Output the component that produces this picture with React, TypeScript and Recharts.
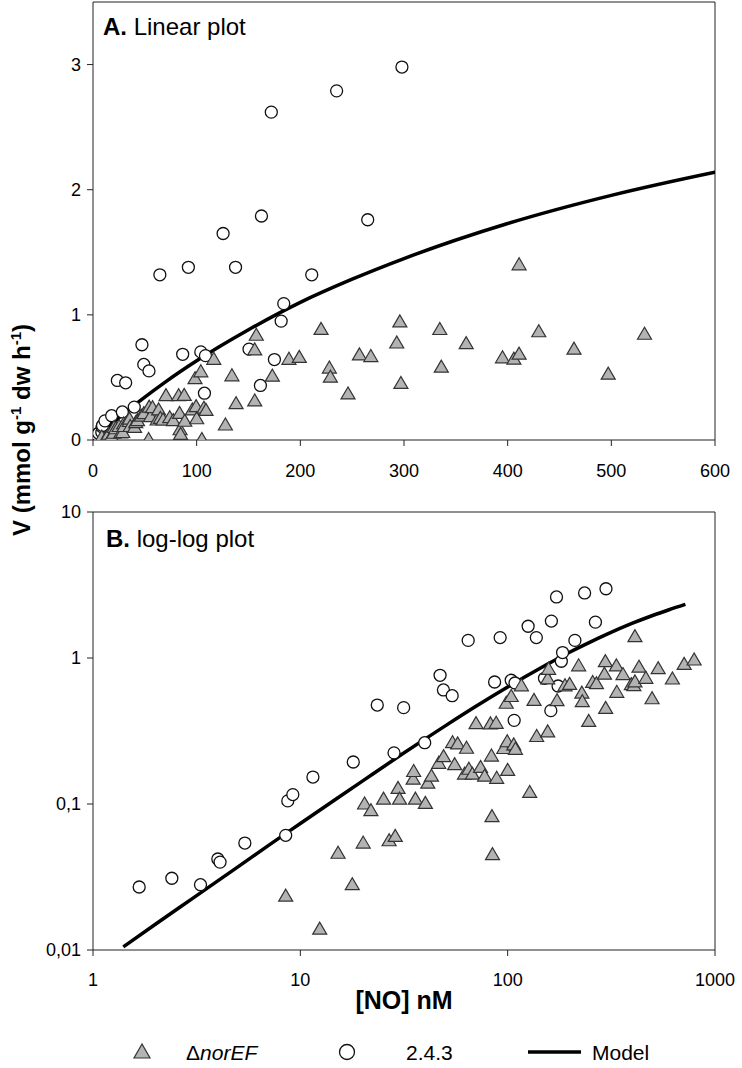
import React from 'react';
import { ComposedChart, Scatter, Line, XAxis, YAxis, ReferenceLine } from 'recharts';

// ΔnorEF mutant (triangles): [NO] in nM, V in mmol g-1 dw h-1
const norEF = [
  { no: 8.5, v: 0.0234 }, { no: 12.4, v: 0.0139 }, { no: 15.2, v: 0.046 }, { no: 17.8, v: 0.028 },
  { no: 20.1, v: 0.054 }, { no: 20.4, v: 0.1 }, { no: 21.9, v: 0.09 }, { no: 25.2, v: 0.108 },
  { no: 26.8, v: 0.056 }, { no: 28.7, v: 0.06 }, { no: 29.6, v: 0.128 }, { no: 30.1, v: 0.108 },
  { no: 35.0, v: 0.148 }, { no: 35.2, v: 0.167 }, { no: 35.9, v: 0.108 }, { no: 40.1, v: 0.101 },
  { no: 41.2, v: 0.139 }, { no: 42.9, v: 0.155 }, { no: 46.5, v: 0.19 }, { no: 49.1, v: 0.211 },
  { no: 53.6, v: 0.004 }, { no: 54.2, v: 0.263 }, { no: 55.5, v: 0.186 }, { no: 57.4, v: 0.258 },
  { no: 61.9, v: 0.16 }, { no: 63.3, v: 0.241 }, { no: 65.0, v: 0.173 }, { no: 67.6, v: 0.16 },
  { no: 70.4, v: 0.355 }, { no: 74.0, v: 0.178 }, { no: 77.4, v: 0.155 }, { no: 82.6, v: 0.354 },
  { no: 83.5, v: 0.213 }, { no: 84.0, v: 0.082 }, { no: 84.5, v: 0.045 }, { no: 88.0, v: 0.357 },
  { no: 88.5, v: 0.15 }, { no: 95.8, v: 0.24 }, { no: 98.4, v: 0.49 }, { no: 99.5, v: 0.267 },
  { no: 100, v: 0.17 }, { no: 105, v: 0.004 }, { no: 104, v: 0.545 }, { no: 107, v: 0.254 },
  { no: 109, v: 0.237 }, { no: 116.5, v: 0.645 }, { no: 127.7, v: 0.12 }, { no: 134, v: 0.513 },
  { no: 138, v: 0.29 }, { no: 156, v: 0.72 }, { no: 156, v: 0.312 }, { no: 157.5, v: 0.837 },
  { no: 173, v: 0.51 }, { no: 189, v: 0.645 }, { no: 199, v: 0.66 }, { no: 220, v: 0.884 },
  { no: 228, v: 0.575 }, { no: 229, v: 0.502 }, { no: 246, v: 0.368 }, { no: 257, v: 0.68 },
  { no: 268, v: 0.667 }, { no: 293, v: 0.775 }, { no: 296, v: 0.944 }, { no: 297, v: 0.452 },
  { no: 334.5, v: 0.883 }, { no: 336, v: 0.582 }, { no: 360, v: 0.77 }, { no: 395, v: 0.657 },
  { no: 406, v: 0.646 }, { no: 411, v: 0.686 }, { no: 411, v: 1.4 }, { no: 430, v: 0.865 },
  { no: 464, v: 0.726 }, { no: 497, v: 0.526 }, { no: 532, v: 0.845 }, { no: 623, v: 0.718 },
  { no: 710, v: 0.905 }, { no: 793, v: 0.969 },
];

// strain 2.4.3 (open circles)
const strain243 = [
  { no: 1.67, v: 0.027 }, { no: 2.4, v: 0.031 }, { no: 3.3, v: 0.028 }, { no: 4.0, v: 0.042 },
  { no: 4.1, v: 0.04 }, { no: 5.4, v: 0.054 }, { no: 8.5, v: 0.061 }, { no: 8.7, v: 0.105 },
  { no: 9.2, v: 0.116 }, { no: 11.5, v: 0.153 }, { no: 18.0, v: 0.194 }, { no: 23.5, v: 0.476 },
  { no: 28.3, v: 0.224 }, { no: 31.5, v: 0.457 }, { no: 39.8, v: 0.263 }, { no: 47.2, v: 0.761 },
  { no: 49.0, v: 0.604 }, { no: 54.0, v: 0.552 }, { no: 64.5, v: 1.32 }, { no: 86.5, v: 0.685 },
  { no: 92.0, v: 1.38 }, { no: 104, v: 0.704 }, { no: 107.5, v: 0.374 }, { no: 108.5, v: 0.674 },
  { no: 125.5, v: 1.65 }, { no: 137.5, v: 1.38 }, { no: 150.5, v: 0.726 }, { no: 161.5, v: 0.436 },
  { no: 162.5, v: 1.79 }, { no: 172, v: 2.62 }, { no: 175, v: 0.643 }, { no: 181.5, v: 0.95 },
  { no: 184, v: 1.09 }, { no: 211, v: 1.32 }, { no: 235, v: 2.79 }, { no: 265, v: 1.76 },
  { no: 298, v: 2.98 },
];

// model curve
const model = [
  { no: 1.4, v: 0.0105 }, { no: 2, v: 0.015 }, { no: 3, v: 0.0224 }, { no: 5, v: 0.0371 },
  { no: 7, v: 0.0519 }, { no: 10, v: 0.0735 }, { no: 15, v: 0.109 }, { no: 20, v: 0.144 },
  { no: 30, v: 0.213 }, { no: 50, v: 0.343 }, { no: 70, v: 0.465 }, { no: 100, v: 0.633 },
  { no: 150, v: 0.881 }, { no: 200, v: 1.1 }, { no: 250, v: 1.285 }, { no: 300, v: 1.45 },
  { no: 400, v: 1.73 }, { no: 500, v: 1.955 }, { no: 600, v: 2.14 }, { no: 720, v: 2.33 },
];

const linXTicks = [0, 100, 200, 300, 400, 500, 600];
const linYTicks = [0, 1, 2, 3];
const logXTicks = [1, 10, 100, 1000];
const logYTicks = [0.01, 0.1, 1, 10];

const FONT = '"Liberation Sans", Arial, sans-serif';
const tickStyle = { fill: '#000', fontSize: 18, fontFamily: FONT };
const AXIS = '#222';

const Tri = (props: any) => {
  const { cx, cy } = props;
  if (cx == null || cy == null) return null;
  return (
    <polygon
      points={`${cx},${cy - 7} ${cx - 7},${cy + 5} ${cx + 7},${cy + 5}`}
      fill="#b3b3b3"
      stroke="#333"
      strokeWidth={1.2}
    />
  );
};

const Ring = (props: any) => {
  const { cx, cy } = props;
  if (cx == null || cy == null) return null;
  return <circle cx={cx} cy={cy} r={6} fill="#fff" stroke="#111" strokeWidth={1.3} />;
};

const comma = (v: number) => String(v).replace('.', ',');

export default function App() {
  return (
    <div style={{ position: 'absolute', left: 0, top: 0, width: 742, height: 1068, background: '#fff' }}>
      <div style={{ position: 'absolute', left: 0, top: 0 }}>
        <ComposedChart width={742} height={492} margin={{ top: 2, right: 27, bottom: 0, left: 0 }}>
          <XAxis type="number" dataKey="no" domain={[0, 600]} ticks={linXTicks} allowDataOverflow
            height={52} tickSize={6} tickMargin={18} stroke={AXIS} tick={tickStyle} />
          <YAxis type="number" dataKey="v" domain={[0, 3.5]} ticks={linYTicks} allowDataOverflow
            width={93} tickSize={6} tickMargin={6} stroke={AXIS} tick={tickStyle} />
          <ReferenceLine y={3.5} stroke={AXIS} />
          <ReferenceLine x={600} stroke={AXIS} />
          <Scatter data={strain243} dataKey="v" shape={<Ring />} isAnimationActive={false} />
          <Scatter data={norEF} dataKey="v" shape={<Tri />} isAnimationActive={false} />
          <Line data={model} dataKey="v" type="monotone" stroke="#000" strokeWidth={3.5} dot={false}
            isAnimationActive={false} />
        </ComposedChart>
      </div>
      <div style={{ position: 'absolute', left: 0, top: 478 }}>
        <ComposedChart width={742} height={524} margin={{ top: 34, right: 27, bottom: 0, left: 0 }}>
          <XAxis type="number" dataKey="no" scale="log" domain={[1, 1000]} ticks={logXTicks} allowDataOverflow
            height={52} tickSize={6} tickMargin={17} stroke={AXIS} tick={tickStyle} />
          <YAxis type="number" dataKey="v" scale="log" domain={[0.01, 10]} ticks={logYTicks} allowDataOverflow
            width={93} tickSize={6} tickMargin={6} stroke={AXIS} tick={tickStyle} tickFormatter={comma} />
          <ReferenceLine y={10} stroke={AXIS} />
          <ReferenceLine x={1000} stroke={AXIS} />
          <Scatter data={strain243} dataKey="v" shape={<Ring />} isAnimationActive={false} />
          <Scatter data={norEF} dataKey="v" shape={<Tri />} isAnimationActive={false} />
          <Line data={model} dataKey="v" type="monotone" stroke="#000" strokeWidth={3.5} dot={false}
            isAnimationActive={false} />
        </ComposedChart>
      </div>
      <svg width={742} height={1068} style={{ position: 'absolute', left: 0, top: 0, pointerEvents: 'none' }}
        fontFamily={FONT}>
        <text x={103} y={35} fontSize={24}>
          <tspan fontWeight="bold">A.</tspan> Linear plot
        </text>
        <text x={106} y={547} fontSize={24}>
          <tspan fontWeight="bold">B.</tspan> log-log plot
        </text>
        <text transform="translate(30,430) rotate(-90)" textAnchor="middle" fontSize={24} fontWeight="bold">
          V (mmol g<tspan dy={-9} fontSize={15}>-1</tspan><tspan dy={9}> dw h</tspan>
          <tspan dy={-9} fontSize={15}>-1</tspan><tspan dy={9}>)</tspan>
        </text>
        <text x={404} y={1009} textAnchor="middle" fontSize={25} fontWeight="bold">[NO] nM</text>
        <polygon points="142,1044 134,1058 150,1058" fill="#b3b3b3" stroke="#333" strokeWidth={1.2} />
        <text x={186} y={1060} fontSize={21}>Δ<tspan fontStyle="italic">norEF</tspan></text>
        <circle cx={347} cy={1052} r={7.5} fill="#fff" stroke="#111" strokeWidth={1.3} />
        <text x={406} y={1060} fontSize={21}>2.4.3</text>
        <line x1={528} y1={1052} x2={581} y2={1052} stroke="#000" strokeWidth={3.5} />
        <text x={592} y={1060} fontSize={21}>Model</text>
      </svg>
    </div>
  );
}
